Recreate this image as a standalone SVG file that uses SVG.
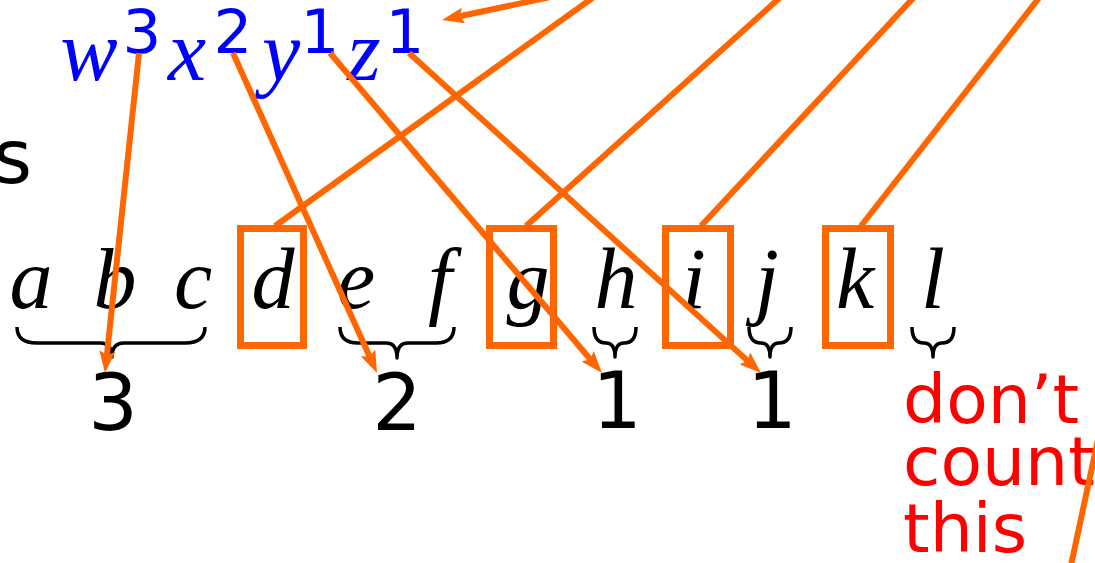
<svg xmlns="http://www.w3.org/2000/svg" width="1095" height="563" viewBox="0 0 1095 563">
<style>
.m{font-family:"Liberation Serif","DejaVu Serif",serif;font-style:italic;font-size:86px;text-anchor:middle}
.blue{fill:#0000FF}
.blk{fill:#000000}
.sup{font-family:"DejaVu Sans","Liberation Sans",sans-serif;font-size:61px;text-anchor:middle}
.num{font-family:"DejaVu Sans","Liberation Sans",sans-serif;font-size:78px;text-anchor:middle;fill:#000}
.note{font-family:"DejaVu Sans","Liberation Sans",sans-serif;font-size:68px;fill:#FF0000}
.box{fill:none;stroke:#FF6600;stroke-width:7}
.brace{fill:none;stroke:#000;stroke-width:3.5;stroke-linejoin:round}
.ln{stroke:#FF6600;stroke-width:6;fill:none}
.arr{marker-end:url(#ah)}
</style>
<defs>
<marker id="ah" markerUnits="userSpaceOnUse" markerWidth="22" markerHeight="16" refX="4" refY="8" orient="auto">
<path d="M0,0 L22,8 L0,16 L4,8 z" fill="#FF6600"/>
</marker>
</defs>
<rect width="1095" height="563" fill="#fff"/>
<g id="s-partial"><text x="32" y="183" style="font-family:'DejaVu Sans',sans-serif;font-size:75px;text-anchor:end" fill="#000">s</text></g>
<g id="expression" class="blue">
<text class="m blue" x="89" y="80">w</text>
<text class="sup blue" x="142" y="53">3</text>
<text class="m blue" x="187" y="80">x</text>
<text class="sup blue" x="233" y="53">2</text>
<text class="m blue" x="281" y="80">y</text>
<text class="sup blue" x="320" y="53">1</text>
<text class="m blue" x="364" y="80">z</text>
<text class="sup blue" x="405" y="53">1</text>
</g>
<g id="letter-a"><text class="m blk" x="31" y="308">a</text></g>
<g id="letter-b"><text class="m blk" x="115" y="308">b</text></g>
<g id="letter-c"><text class="m blk" x="193" y="308">c</text></g>
<g id="letter-d"><rect class="box" x="240.5" y="228.5" width="63" height="117"/><text class="m blk" x="273" y="308">d</text></g>
<g id="letter-e"><text class="m blk" x="356" y="308">e</text></g>
<g id="letter-f"><text class="m blk" x="440" y="308">f</text></g>
<g id="letter-g"><rect class="box" x="489.5" y="228.5" width="64" height="117"/><text class="m blk" x="528" y="308">g</text></g>
<g id="letter-h"><text class="m blk" x="616" y="308">h</text></g>
<g id="letter-i"><rect class="box" x="665.5" y="228.5" width="65" height="117"/><text class="m blk" x="694" y="308">i</text></g>
<g id="letter-j"><text class="m blk" x="767" y="308">j</text></g>
<g id="letter-k"><rect class="box" x="825.5" y="228.5" width="65" height="117"/><text class="m blk" x="855" y="308">k</text></g>
<g id="letter-l"><text class="m blk" x="933" y="308">l</text></g>
<g id="braces">
<path class="brace" d="M17,327 Q17,343 37,343 L100,343 Q112,343 112,357 Q112,343 124,343 L185,343 Q205,343 205,327"/>
<path class="brace" d="M340,327 Q340,343 358,343 L386,343 Q397,343 397,358 Q397,343 408,343 L436,343 Q454,343 454,327"/>
<path class="brace" d="M594,327 Q594,343 606,343 Q615,343 615,357 Q615,343 624,343 Q636,343 636,327"/>
<path class="brace" d="M749,327 Q749,343 761,343 Q770,343 770,357 Q770,343 779,343 Q791,343 791,327"/>
<path class="brace" d="M912,327 Q912,343 924,343 Q933,343 933,357 Q933,343 942,343 Q954,343 954,327"/>
</g>
<g id="count-3"><text class="num" x="113" y="430">3</text></g>
<g id="count-2"><text class="num" x="397" y="430">2</text></g>
<g id="count-1a"><text class="num" x="617" y="428">1</text></g>
<g id="count-1b"><text class="num" x="772" y="428">1</text></g>
<g id="note"><text class="note" x="903"><tspan x="903" y="423">don’t</tspan><tspan x="903" y="485">count</tspan><tspan x="903" y="552">this</tspan></text></g>
<g id="connectors">
<line class="ln arr" x1="139" y1="53" x2="106.9" y2="355.1"/>
<line class="ln arr" x1="233" y1="53" x2="369.6" y2="356.6"/>
<line class="ln arr" x1="330" y1="53" x2="590.3" y2="359.3"/>
<line class="ln arr" x1="409" y1="53" x2="747.7" y2="360.9"/>
<line class="ln arr" x1="560" y1="-5" x2="459.6" y2="16.3"/>
<line class="ln" x1="275" y1="226" x2="598" y2="-6"/>
<line class="ln" x1="526" y1="226" x2="784" y2="-6"/>
<line class="ln" x1="701" y1="226" x2="917" y2="-6"/>
<line class="ln" x1="861" y1="226" x2="1042" y2="-6"/>
<line class="ln" x1="1070" y1="570" x2="1100" y2="430"/>
</g>
</svg>
